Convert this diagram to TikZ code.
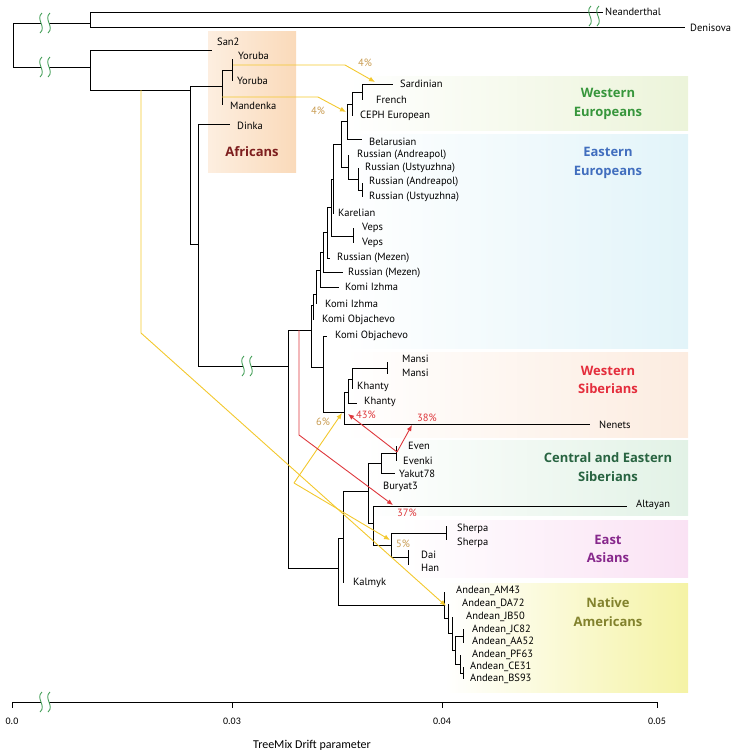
\documentclass[tikz,border=0pt]{standalone}
\usepackage{fontspec}
\setmainfont{PT Sans}
\newfontfamily\axisfont{Carlito}
\newfontfamily\groupfont{Open Sans}
\usetikzlibrary{arrows.meta}
\definecolor{brkgreen}{RGB}{70,160,90}
\definecolor{migyel}{RGB}{243,200,45}
\definecolor{migred}{RGB}{222,55,60}
\definecolor{pcttan}{RGB}{200,155,80}
\definecolor{afrbox}{RGB}{250,218,186}
\definecolor{afrtxt}{RGB}{125,30,30}
\definecolor{webox}{RGB}{236,244,218}
\definecolor{wetxt}{RGB}{55,150,60}
\definecolor{eebox}{RGB}{226,244,249}
\definecolor{eetxt}{RGB}{65,110,190}
\definecolor{wsbox}{RGB}{252,236,224}
\definecolor{wstxt}{RGB}{228,45,60}
\definecolor{csbox}{RGB}{226,242,230}
\definecolor{cstxt}{RGB}{40,100,65}
\definecolor{eabox}{RGB}{250,226,244}
\definecolor{eatxt}{RGB}{135,40,140}
\definecolor{nabox}{RGB}{245,243,165}
\definecolor{natxt}{RGB}{130,130,45}
\tikzstyle{branch}=[line width=0.8pt]
\tikzstyle{leaf}=[anchor=west,inner sep=0pt,font=\fontsize{10.5}{12}\selectfont]
\tikzstyle{region}=[align=center,inner sep=0pt,font=\groupfont\fontsize{13}{18.5}\selectfont\bfseries]
\tikzstyle{migy}=[draw=migyel,line width=0.9pt,-{Latex[length=6pt,width=5pt]}]
\tikzstyle{migr}=[draw=migred,line width=0.9pt,-{Latex[length=6pt,width=5pt]}]
\tikzstyle{pct}=[inner sep=0pt,font=\fontsize{10.5}{12}\selectfont]
\tikzstyle{axlab}=[inner sep=0pt,font=\axisfont\fontsize{10}{12}\selectfont]
\tikzset{brk/.pic={
  \fill[white] (-4,-2) rectangle (4,2);
  \foreach \d in {-4,4}
    \draw[brkgreen,line width=0.9pt] (\d+1,-10) .. controls (\d-6,-4) and (\d+6,4) .. (\d-1,10);
}}

\begin{document}
\begin{tikzpicture}[x=1pt,y=-1pt]
  \useasboundingbox (0,0) rectangle (747,756);
  % group backgrounds
  \shade[left color=afrbox!45,right color=afrbox] (208,31) rectangle (296,172);
  \shade[left color=white,right color=webox] (345,76) rectangle (688,130);
  \shade[left color=white,right color=eebox] (345,134) rectangle (688,348);
  \shade[left color=white,right color=wsbox] (345,352) rectangle (688,437);
  \shade[left color=white,right color=csbox] (365,440) rectangle (688,515);
  \shade[left color=white,right color=eabox] (400,520) rectangle (688,577);
  \shade[left color=white,right color=nabox] (445,583) rectangle (688,692);

  % internal nodes of the tree
  \foreach \n/\x/\y in {r0/13/45, arch/90/23, mh/90/67, afr/190/90, ym/222/86,
      yor/232/70, dk/198/244, na/288/366, eu/311/330, ko/323/367,
      ws/344/412, ws2/348/392, ws3/352/379, ma/387/368,
      ee8/313/305, ee7/316/294, ee6/320/270, ee5/323/252, ee4/327/232,
      ee3/331/207, veps/353/236, ee2/333/179, ee1/341/144, we3/347/121,
      we2/352/104, we1/362/92, ru3/348/167, ru2/358/179, ru1/362/190,
      as/338/568, as2/343/538, sib/368/491, ey/381/463, evn/396/453,
      alt/373/523, ea/391/545, sher/446/533, dh/408/557,
      and1/444/605, an2/448/618, an3/452/633, an4/455/650, jc/463/636,
      pf/460/664, cb/463/673}
    \coordinate (\n) at (\x,\y);
  % tips
  \foreach \n/\x/\y in {nea/603/12, den/685/27, san/212/50, yo1/232/59, yo2/232/81,
      mand/222/105, dinka/230/124, sard/393/84, fren/362/100, ceph/352/116,
      bela/362/139, andA/348/155, ustA/358/168, andB/362/183, ustB/362/197,
      kare/333/214, veA/353/228, veB/353/243, mezA/330/258, mezB/343/272,
      izA/339/287, izB/316/304, obA/313/320, obB/327/336, maA/387/362,
      maB/387/374, khA/352/389, khB/357/403, nene/590/424, even/396/446,
      evki/396/461, yaku/395/473, alta/627/506, shA/446/526, shB/446/540,
      dai/408/550, han/408/565, kalm/343/583, am43/444/592, da72/448/604,
      jb50/452/617, jc82/463/629, aa52/463/643, pf63/460/655, ce31/463/667,
      bs93/463/679}
    \coordinate (\n) at (\x,\y);

  % branches
  \foreach \p/\c in {r0/arch, r0/mh, arch/nea, arch/den, mh/san, mh/afr,
      afr/ym, afr/dk, ym/yor, ym/mand, yor/yo1, yor/yo2, dk/dinka, dk/na,
      na/eu, na/as, eu/ee8, eu/ko, ko/obB, ko/ws, ws/ws2, ws/nene,
      ws2/ws3, ws2/khB, ws3/ma, ws3/khA, ma/maA, ma/maB,
      ee8/ee7, ee8/obA, ee7/ee6, ee7/izB, ee6/ee5, ee6/izA, ee5/ee4, ee5/mezB,
      ee4/ee3, ee4/mezA, ee3/ee2, ee3/veps, veps/veA, veps/veB,
      ee2/ee1, ee2/kare, ee1/we3, ee1/ru3, we3/we2, we3/bela,
      we2/we1, we2/ceph, we1/sard, we1/fren,
      ru3/andA, ru3/ru2, ru2/ustA, ru2/ru1, ru1/andB, ru1/ustB,
      as/as2, as/and1, as2/sib, as2/kalm, sib/ey, sib/alt,
      ey/evn, ey/yaku, evn/even, evn/evki, alt/alta, alt/ea,
      ea/sher, ea/dh, sher/shA, sher/shB, dh/dai, dh/han,
      and1/am43, and1/an2, an2/da72, an2/an3, an3/jb50, an3/an4,
      an4/jc, an4/pf, jc/jc82, jc/aa52, pf/pf63, pf/cb, cb/ce31, cb/bs93}
    \draw[branch] (\p) |- (\c);

  % long branch breaks
  \pic at (45,23) {brk};
  \pic at (45,67) {brk};
  \pic at (594,16) {brk};
  \pic at (247,366) {brk};

  % migration edges
  \coordinate (yoS) at (233,65);  \coordinate (yoK) at (345,65);  \coordinate (yoT) at (375,82);
  \coordinate (mdS) at (222,97);  \coordinate (mdK) at (318,97);  \coordinate (mdT) at (346,112);
  \coordinate (saS) at (141,90);  \coordinate (saK) at (141,333); \coordinate (saT) at (446,606);
  \coordinate (vS) at (294,483);  \coordinate (vA) at (342,413);  \coordinate (vB) at (390,540);
  \coordinate (rS) at (299,330);  \coordinate (rK) at (299,435);  \coordinate (rT) at (393,505);
  \coordinate (evS) at (397,452); \coordinate (khT) at (348,414); \coordinate (neT) at (412,425);
  \draw[migy] (yoS) -- (yoK) -- (yoT);
  \draw[migy] (mdS) -- (mdK) -- (mdT);
  \draw[migy] (saS) -- (saK) -- (saT);
  \draw[migy] (vS) -- (vA);
  \draw[migy] (vS) -- (vB);
  \draw[migr] (rS) -- (rK) -- (rT);
  \draw[migr] (evS) -- (khT);
  \draw[migr] (evS) -- (neT);

  % migration weights
  \foreach \n/\x/\y/\t in {pa/365/63/4\%, pb/318/111/4\%, pc/323/422/6\%, pd/403/544/5\%}
    \node[pct,text=pcttan] (\n) at (\x,\y) {\t};
  \foreach \n/\x/\y/\t in {pe/366/415/43\%, pf/427/418/38\%, pg/407/513/37\%}
    \node[pct,text=migred] (\n) at (\x,\y) {\t};

  % leaf labels
  \foreach \n/\x/\y/\t in {nea/605/12/Neanderthal, den/690/28/Denisova, san/217/42/San2,
      yo1/238/56/Yoruba, yo2/237/81/Yoruba, mand/230/106/Mandenka, dinka/237/126/Dinka,
      sard/400/84/Sardinian, fren/376/100/French, ceph/360/116/CEPH European,
      bela/369/142/Belarusian, andA/357/155/Russian (Andreapol),
      ustA/365/168/Russian (Ustyuzhna), andB/369/182/Russian (Andreapol),
      ustB/369/197/Russian (Ustyuzhna), kare/338/213/Karelian, veA/362/228/Veps,
      veB/362/243/Veps, mezA/337/258/Russian (Mezen), mezB/348/273/Russian (Mezen),
      izA/345/287/Komi Izhma, izB/325/304/Komi Izhma, obA/322/320/Komi Objachevo,
      obB/335/336/Komi Objachevo, maA/402/359/Mansi, maB/402/373/Mansi,
      khA/357/387/Khanty, khB/364/402/Khanty, nene/599/425/Nenets,
      even/408/446/Even, evki/403/461/Evenki, yaku/399/474/Yakut78,
      bury/383/487/Buryat3, alta/636/505/Altayan, shA/457/529/Sherpa,
      shB/457/543/Sherpa, dai/421/555/Dai, han/421/568/Han, kalm/353/583/Kalmyk,
      am43/456/591/Andean\_AM43, da72/462/604/Andean\_DA72, jb50/466/617/Andean\_JB50,
      jc82/472/630/Andean\_JC82, aa52/472/642/Andean\_AA52, pf63/472/655/Andean\_PF63,
      ce31/470/667/Andean\_CE31, bs93/470/679/Andean\_BS93}
    \node[leaf] (l\n) at (\x,\y) {\t};

  % group names
  \node[region,text=afrtxt] (gAF) at (252,152) {Africans};
  \node[region,text=wetxt] (gWE) at (608,104) {Western\\Europeans};
  \node[region,text=eetxt] (gEE) at (608,163) {Eastern\\Europeans};
  \node[region,text=wstxt] (gWS) at (608,380) {Western\\Siberians};
  \node[region,text=cstxt] (gCS) at (608,467) {Central and Eastern\\Siberians};
  \node[region,text=eatxt] (gEA) at (608,549) {East\\Asians};
  \node[region,text=natxt] (gNA) at (608,612) {Native\\Americans};

  % drift axis
  \coordinate (axL) at (12,702);
  \coordinate (axR) at (657,702);
  \draw[branch] (axL) -- (axR);
  \foreach \x/\l [count=\i] in {12/0.0, 232/0.03, 442/0.04, 657/0.05} {
    \draw[branch] (\x,702) -- (\x,708);
    \node[axlab] (tick\i) at (\x,721) {\l};
  }
  \pic at (45,702) {brk};
  \node[axlab,font=\axisfont\fontsize{12}{14}\selectfont] (axtitle) at (312,745) {TreeMix Drift parameter};
\end{tikzpicture}
\end{document}
